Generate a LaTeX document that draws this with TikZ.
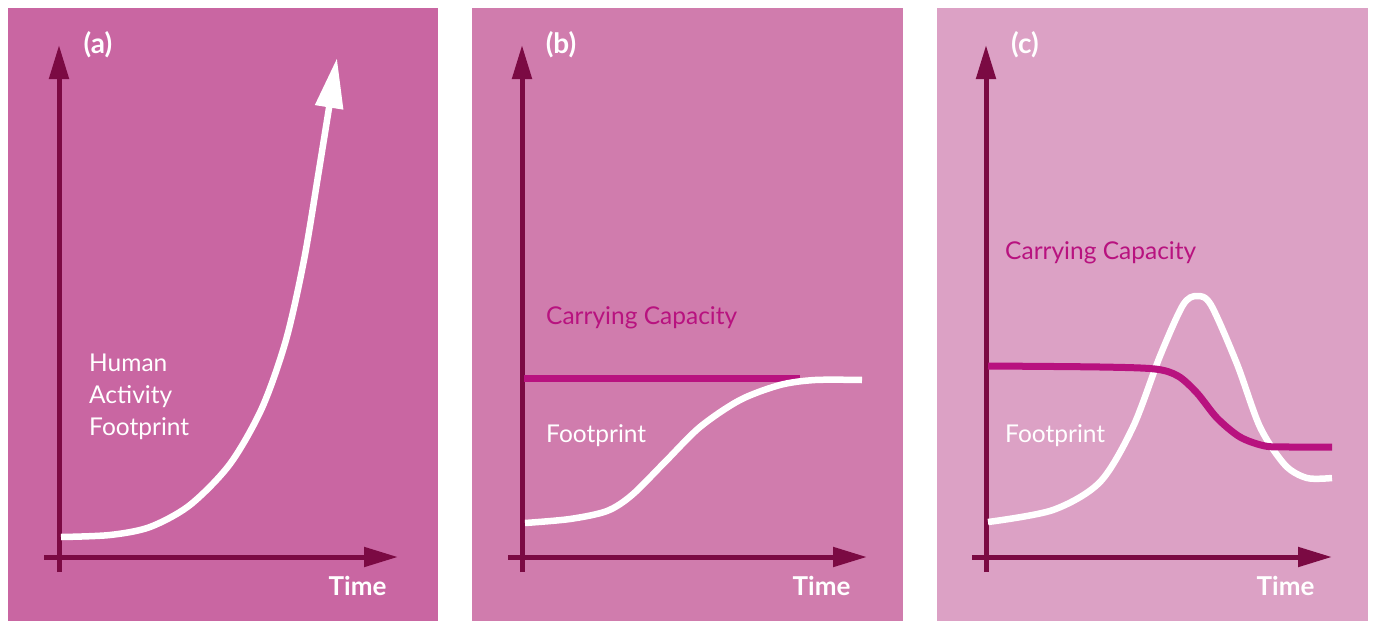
\documentclass[tikz,border=0pt]{standalone}
\usepackage{fontspec}
\setmainfont{Lato}
\usetikzlibrary{arrows.meta}
\definecolor{pna}{HTML}{C966A2}
\definecolor{pnb}{HTML}{D07CAD}
\definecolor{pnc}{HTML}{DCA1C5}
\definecolor{axc}{HTML}{7B0A43}
\definecolor{capc}{HTML}{B8127F}
\tikzset{
    axis/.style={axc,line width=5pt,-{Triangle[length=34pt,width=19pt]}},
    foot/.style={white,line width=6.5pt},
    capline/.style={capc,line width=7pt},
    tag/.style={white,font=\bfseries\fontsize{28}{28}\selectfont},
    timelbl/.style={white,font=\bfseries\fontsize{26}{26}\selectfont,anchor=east},
    lbl/.style={white,font=\fontsize{24.5}{32}\selectfont,anchor=west,align=left,inner sep=0pt},
}

\begin{document}
\begin{tikzpicture}[x=1pt,y=-1pt]
    \useasboundingbox (0,0) rectangle (1373,621);

    % backgrounds
    \fill [pna] (8,8) rectangle (438,621);
    \fill [pnb] (472,8) rectangle (903,621);
    \fill [pnc] (937,8) rectangle (1368,621);

    % (a)
    \coordinate (abot) at (59,572);
    \coordinate (atop) at (59,45);
    \coordinate (aleft) at (44,557);
    \coordinate (aright) at (398,557);
    \draw [axis] (abot) -- (atop);
    \draw [axis] (aleft) -- (aright);
    \node [tag] (atag) at (98,45) {(a)};
    \node [timelbl] (atime) at (390,586) {Time};
    \node [lbl] (ahum) at (89,397) {Human\\Activity\\Footprint};
    \draw [foot,-{Triangle[length=50pt,width=27pt]}]
        plot[smooth] coordinates {(61,537) (110,535) (150,527) (190,505) (230,464) (262,408) (286,340) (304,260) (319,170) (337,58)};

    % (b)
    \coordinate (bbot) at (522,572);
    \coordinate (btop) at (522,45);
    \coordinate (bleft) at (508,557);
    \coordinate (bright) at (867,557);
    \draw [axis] (bbot) -- (btop);
    \draw [axis] (bleft) -- (bright);
    \node [tag] (btag) at (561,45) {(b)};
    \node [timelbl] (btime) at (854,586) {Time};
    \node [lbl,text=capc] (bcap) at (546,318) {Carrying Capacity};
    \node [lbl] (bfoot) at (546,436) {Footprint};
    \draw [capline] (524,378) -- (800,378);
    \draw [foot]
        plot[smooth] coordinates {(525,523) (570,519) (607,511) (632,495) (665,462) (700,427) (740,400) (780,385) (815,380) (862,380)};

    % (c)
    \coordinate (cbot) at (986,572);
    \coordinate (ctop) at (986,45);
    \coordinate (cleft) at (972,557);
    \coordinate (cright) at (1332,557);
    \draw [axis] (cbot) -- (ctop);
    \draw [axis] (cleft) -- (cright);
    \node [tag] (ctag) at (1025,45) {(c)};
    \node [timelbl] (ctime) at (1318,586) {Time};
    \node [lbl,text=capc] (ccap) at (1005,253) {Carrying Capacity};
    \node [lbl] (cfoot) at (1005,436) {Footprint};
    \draw [foot]
        plot[smooth] coordinates {(988,522) (1053,510) (1100,482) (1133,427) (1160,356) (1183,305) (1197,296) (1211,305) (1237,364) (1260,427) (1285,465) (1307,478) (1332,478)};
    \draw [capline]
        plot[smooth] coordinates {(988,366) (1100,367) (1155,369) (1178,376) (1197,393) (1217,418) (1240,437) (1265,446) (1290,447) (1332,447)};
\end{tikzpicture}
\end{document}
